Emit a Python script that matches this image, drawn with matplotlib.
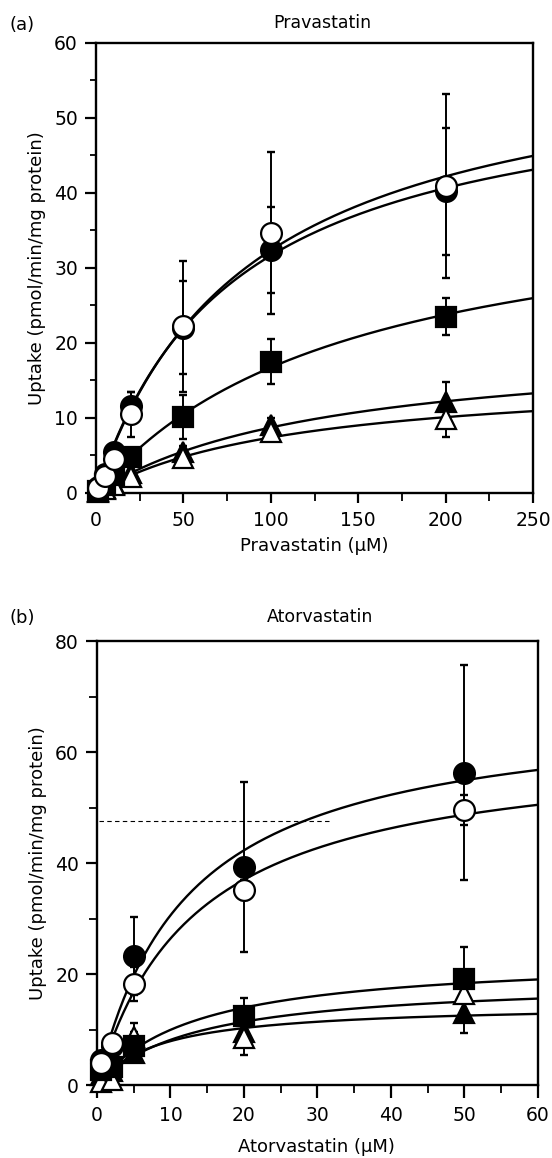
import numpy as np
import matplotlib
matplotlib.use("Agg")
import matplotlib.pyplot as plt
from matplotlib.ticker import MultipleLocator

# ---- data ----
# (a) Pravastatin
prav_x = [1, 5, 10, 20, 50, 100, 200]
prav_fc = [0.8, 2.5, 5.5, 11.6, 22.0, 32.4, 40.2]      # filled circle
prav_fc_err = [0.3, 0.5, 0.8, 1.8, 6.2, 5.7, 8.5]
prav_oc = [0.6, 2.2, 4.5, 10.5, 22.2, 34.7, 40.9]      # open circle
prav_oc_err = [0.3, 0.4, 0.6, 3.0, 8.7, 10.8, 12.3]
prav_sq = [0.3, 1.2, 2.4, 4.8, 10.1, 17.5, 23.5]       # filled square
prav_sq_err = [0.1, 0.3, 0.4, 0.6, 2.9, 3.0, 2.5]
prav_ft = [0.2, 0.6, 1.2, 2.6, 5.5, 9.0, 12.1]         # filled triangle
prav_ft_err = [0.1, 0.2, 0.3, 0.5, 0.8, 1.0, 2.7]
prav_ot = [0.1, 0.5, 1.0, 2.1, 4.6, 8.1, 9.8]          # open triangle
prav_ot_err = [0.1, 0.2, 0.3, 0.5, 0.7, 1.0, 2.4]

# (b) Atorvastatin
ator_x = [0.5, 2, 5, 20, 50]
ator_fc = [4.5, 7.0, 23.2, 39.3, 56.3]
ator_fc_err = [0.5, 1.0, 7.0, 15.3, 19.3]
ator_oc = [4.0, 7.5, 18.2, 35.2, 49.6]
ator_oc_err = [0.5, 1.0, 3.0, 1.8, 2.7]
ator_sq = [2.8, 3.2, 7.0, 12.5, 19.1]
ator_sq_err = [0.3, 0.5, 2.5, 3.2, 5.7]
ator_ft = [1.8, 2.5, 5.8, 9.6, 12.9]
ator_ft_err = [0.3, 0.4, 1.0, 1.5, 3.6]
ator_ot = [0.6, 0.9, 8.6, 8.4, 16.4]
ator_ot_err = [0.2, 0.3, 2.5, 3.0, 1.0]


def mm_fit(x, y):
    # Michaelis-Menten fit: grid on Km, least squares on Vmax
    x = np.asarray(x, float)
    y = np.asarray(y, float)
    best = (np.inf, 0, 1)
    for km in np.linspace(0.2, 2000, 20000):
        f = x / (km + x)
        vm = (f * y).sum() / (f * f).sum()
        sse = ((vm * f - y) ** 2).sum()
        if sse < best[0]:
            best = (sse, vm, km)
    return best[1], best[2]


styles = [  # marker, facecolor, size, zorder
    ("^", "black", 14, 3),
    ("^", "white", 14, 4),
    ("s", "black", 14, 5),
    ("o", "black", 15, 6),
    ("o", "white", 15, 7),
]


def draw(ax, x, series, xmax):
    xs = np.linspace(0, xmax, 300)
    for (y, err), (m, fc, ms, z) in zip(series, styles):
        vm, km = mm_fit(x, y)
        ax.plot(xs, vm * xs / (km + xs), color="black", lw=1.7, zorder=2)
        ax.errorbar(x, y, yerr=err, fmt="none", ecolor="black", elinewidth=1.4,
                    capsize=3.2, capthick=1.7, zorder=2)
        ax.plot(x, y, ls="none", marker=m, ms=ms, mfc=fc, mec="black",
                mew=1.6, zorder=z, clip_on=False)


def style_axes(ax):
    for s in ax.spines.values():
        s.set_linewidth(1.7)
    ax.tick_params(axis="both", which="major", labelsize=13.5, width=1.6)
    ax.tick_params(axis="y", which="major", length=8, pad=5)
    ax.tick_params(axis="y", which="minor", length=4, width=1.3)
    ax.tick_params(axis="x", which="major", length=7, pad=6)
    ax.tick_params(axis="x", which="minor", length=6, width=1.3)


fig = plt.figure(figsize=(5.52, 11.58), dpi=100)

# panel a
ax1 = fig.add_axes([0.174, 0.5743, 0.7917, 0.3886])
draw(ax1, prav_x, [(prav_ft, prav_ft_err), (prav_ot, prav_ot_err),
                   (prav_sq, prav_sq_err), (prav_fc, prav_fc_err),
                   (prav_oc, prav_oc_err)], 250)
ax1.set_xlim(0, 250)
ax1.set_ylim(0, 60)
ax1.xaxis.set_major_locator(MultipleLocator(50))
ax1.xaxis.set_minor_locator(MultipleLocator(25))
ax1.yaxis.set_major_locator(MultipleLocator(10))
ax1.yaxis.set_minor_locator(MultipleLocator(5))
style_axes(ax1)
ax1.set_xlabel("Pravastatin (µM)", fontsize=13, labelpad=5)
ax1.set_ylabel("Uptake (pmol/min/mg protein)", fontsize=13, labelpad=6)
fig.text(0.018, 0.978, "(a)", fontsize=13, va="center")
fig.text(0.583, 0.980, "Pravastatin", fontsize=12.5, ha="center", va="center")

# panel b
ax2 = fig.add_axes([0.1757, 0.0630, 0.7989, 0.3834])
draw(ax2, ator_x, [(ator_ft, ator_ft_err), (ator_ot, ator_ot_err),
                   (ator_sq, ator_sq_err), (ator_fc, ator_fc_err),
                   (ator_oc, ator_oc_err)], 60)
# faint scan streak across the panel
ax2.plot([0.3, 32], [47.5, 47.5], color="black", lw=0.8, ls=(0, (4, 3)), zorder=1)
ax2.set_xlim(0, 60)
ax2.set_ylim(0, 80)
ax2.xaxis.set_major_locator(MultipleLocator(10))
ax2.xaxis.set_minor_locator(MultipleLocator(5))
ax2.yaxis.set_major_locator(MultipleLocator(20))
ax2.yaxis.set_minor_locator(MultipleLocator(10))
style_axes(ax2)
ax2.tick_params(axis="x", which="major", length=9, pad=6)
ax2.tick_params(axis="x", which="minor", length=6)
ax2.tick_params(axis="y", which="minor", length=6)
ax2.set_ylabel("Uptake (pmol/min/mg protein)", fontsize=13, labelpad=6)
fig.text(0.573, 0.0095, "Atorvastatin (µM)", fontsize=13, ha="center", va="center")
fig.text(0.018, 0.4663, "(b)", fontsize=13, va="center")
fig.text(0.580, 0.4672, "Atorvastatin", fontsize=12.5, ha="center", va="center")

plt.savefig("out.png", dpi=100)
